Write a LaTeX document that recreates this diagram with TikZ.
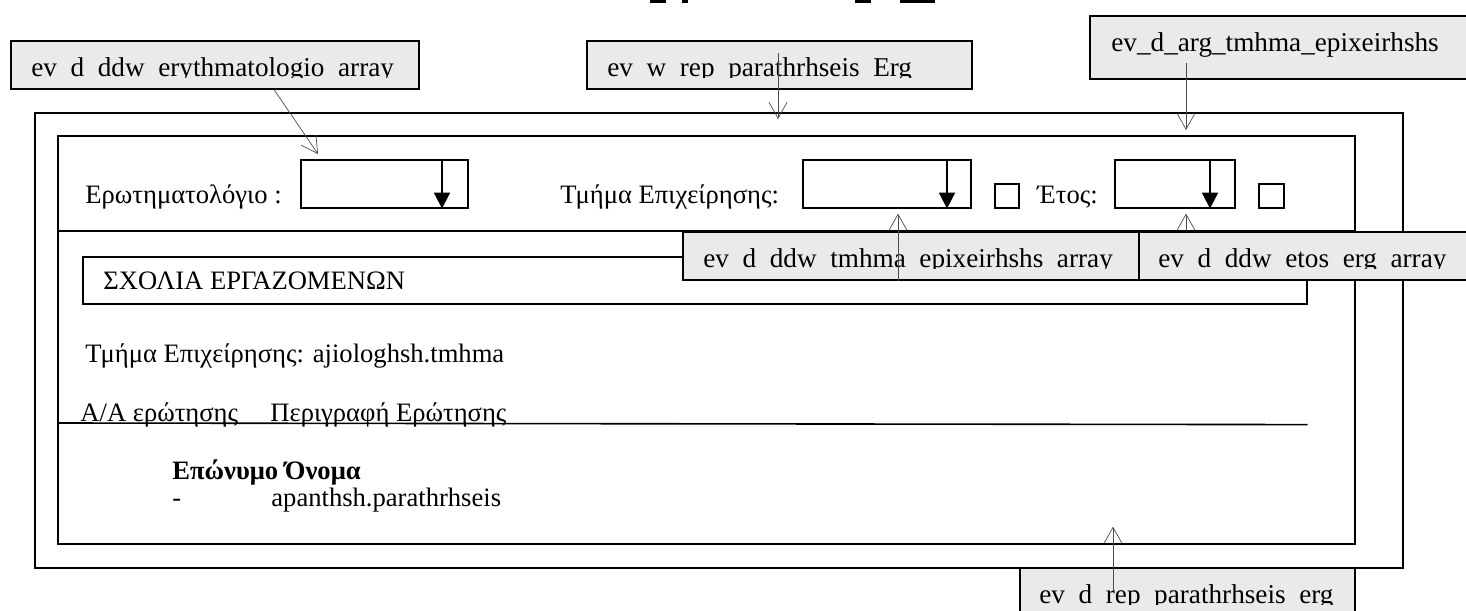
\documentclass[tikz,border=0pt]{standalone}
\usepackage{fontspec}
\setmainfont{Liberation Serif}
\usetikzlibrary{arrows.meta,calc}
\definecolor{labfill}{HTML}{EAEAEA}
\tikzset{
  frame/.style={draw, line width=0.8pt, inner sep=0pt, anchor=north west},
  labelbox/.style={draw, fill=labfill, line width=0.8pt, inner sep=0pt, anchor=north west},
  txt/.style={anchor=base west, inner sep=0pt, font=\fontsize{13.3}{16}\selectfont},
  ltxt/.style={anchor=base west, inner sep=0pt, font=\fontsize{13.6}{16}\selectfont},
  btxt/.style={txt, font=\fontsize{13.3}{16}\selectfont\bfseries},
  rule/.style={line width=0.8pt},
  ptr/.style={draw=black!70, line width=0.35pt, -{Straight Barb[length=8pt,width=9pt,line width=0.35pt]}},
  droparrow/.style={line width=0.9pt, -{Triangle[length=8pt,width=8pt]}},
}
\begin{document}
\begin{tikzpicture}[x=0.5pt,y=-0.5pt]
\useasboundingbox (0,0) rectangle (1466,610);

% remnants of text cut at the top edge
\fill (650,0) rectangle (666,3);
\fill (682,0) rectangle (688,3);
\fill (855,0) rectangle (871,3);
\fill (900,0) rectangle (935,3);

% frames
\node[frame, minimum width=684pt, minimum height=227.5pt] (outer) at (34,112) {};
\node[frame, minimum width=648.5pt, minimum height=204pt] (inner) at (57,135) {};

% top row
\node[txt] (lq) at (85,203) {Ερωτηματολόγιο :};
\node[frame, minimum width=83.5pt, minimum height=24pt] (combo1) at (300,159) {};
\draw[droparrow] ($(combo1.north west)+(142,0)$) -- ($(combo1.south west)+(142,0)$);

\node[txt] (ltm) at (560,203) {Τμήμα Επιχείρησης:};
\node[frame, minimum width=84pt, minimum height=24pt] (combo2) at (802,159) {};
\draw[droparrow] ($(combo2.north west)+(145,0)$) -- ($(combo2.south west)+(145,0)$);
\node[frame, minimum width=12pt, minimum height=12pt] (check1) at (994,183) {};

\node[txt] (lyr) at (1037,203) {Έτος:};
\node[frame, minimum width=60pt, minimum height=24pt] (combo3) at (1114,159) {};
\draw[droparrow] ($(combo3.north west)+(96,0)$) -- ($(combo3.south west)+(96,0)$);
\node[frame, minimum width=12.5pt, minimum height=12pt] (check2) at (1258,183) {};

% divider
\draw[rule] ($(inner.north west)+(0,96)$) -- ($(inner.north east)+(0,96)$);

% comments header
\node[frame, minimum width=612pt, minimum height=23.5pt] (comments) at (82,256) {};
\node[txt] (ltitle) at (103,289) {ΣΧΟΛΙΑ ΕΡΓΑΖΟΜΕΝΩΝ};

\node[txt] (ldept) at (85,362) {Τμήμα Επιχείρησης: ajiologhsh.tmhma};
\node[txt] (laa) at (80,421) {Α/Α ερώτησης};
\node[txt] (ldesc) at (270,421) {Περιγραφή Ερώτησης};
\draw[rule] ($(inner.north west)+(0,288)$) -- ($(comments.south east)+(0,120)$);

\node[btxt] (lname) at (172,479) {Επώνυμο Όνομα};
\node[txt] (ldash) at (172,506) {-};
\node[txt] (lans) at (271,506) {apanthsh.parathrhseis};

% label boxes
\node[labelbox, minimum width=204pt, minimum height=24pt] (lab1) at (10,40) {};
\begin{scope}
  \clip (10,40) rectangle (418,77.5);
  \node[ltxt] (lab1t) at (31,76) {ev\_d\_ddw\_erythmatologio\_array};
\end{scope}

\node[labelbox, minimum width=192.5pt, minimum height=24pt] (lab2) at (586,40) {};
\begin{scope}
  \clip (586,40) rectangle (971,77.5);
  \node[ltxt] (lab2t) at (607,76) {ev\_w\_rep\_parathrhseis\_Erg};
\end{scope}

\node[labelbox, minimum width=190pt, minimum height=31.5pt] (lab3) at (1089,15) {};
\node[ltxt] (lab3t) at (1111,52) {ev\_d\_arg\_tmhma\_epixeirhshs};

\node[labelbox, minimum width=228pt, minimum height=24pt] (lab4) at (682,231) {};
\begin{scope}
  \clip (682,231) rectangle (1138,268.5);
  \node[ltxt] (lab4t) at (703,267) {ev\_d\_ddw\_tmhma\_epixeirhshs\_array};
\end{scope}

\node[labelbox, minimum width=165pt, minimum height=24pt] (lab5) at (1138,231) {};
\begin{scope}
  \clip (1138,231) rectangle (1468,268.5);
  \node[ltxt] (lab5t) at (1158,267) {ev\_d\_ddw\_etos\_erg\_array};
\end{scope}

\node[labelbox, minimum width=167.5pt, minimum height=24pt] (lab6) at (1019,567) {};
\begin{scope}
  \clip (1019,567) rectangle (1354,604.5);
  \node[ltxt] (lab6t) at (1039,603) {ev\_d\_rep\_parathrhseis\_erg};
\end{scope}

% pointer arrows
\coordinate (p1s) at ($(lab1.south west)+(264,0)$);
\coordinate (p1e) at ($(combo1.north west)+(18,-5)$);
\draw[ptr] (p1s) -- (p1e);

\coordinate (p2s) at ($(lab2.north west)+(192,13)$);
\coordinate (p2e) at ($(outer.north west)+(744,7)$);
\draw[ptr] (p2s) -- (p2e);

\coordinate (p3s) at ($(lab3.north west)+(97,48)$);
\coordinate (p3e) at ($(inner.north west)+(1129,-5)$);
\draw[ptr] (p3s) -- (p3e);

\coordinate (p4s) at ($(lab4.south west)+(216,0)$);
\coordinate (p4e) at ($(combo2.south west)+(96,5)$);
\draw[ptr] (p4s) -- (p4e);

\coordinate (p5s) at ($(lab5.north west)+(48,0)$);
\coordinate (p5e) at ($(combo3.south west)+(72,5)$);
\draw[ptr] (p5s) -- (p5e);

\coordinate (p6s) at ($(lab6.north west)+(94,23)$);
\coordinate (p6e) at ($(inner.south west)+(1056,-18)$);
\draw[ptr] (p6s) -- (p6e);
\end{tikzpicture}
\end{document}
